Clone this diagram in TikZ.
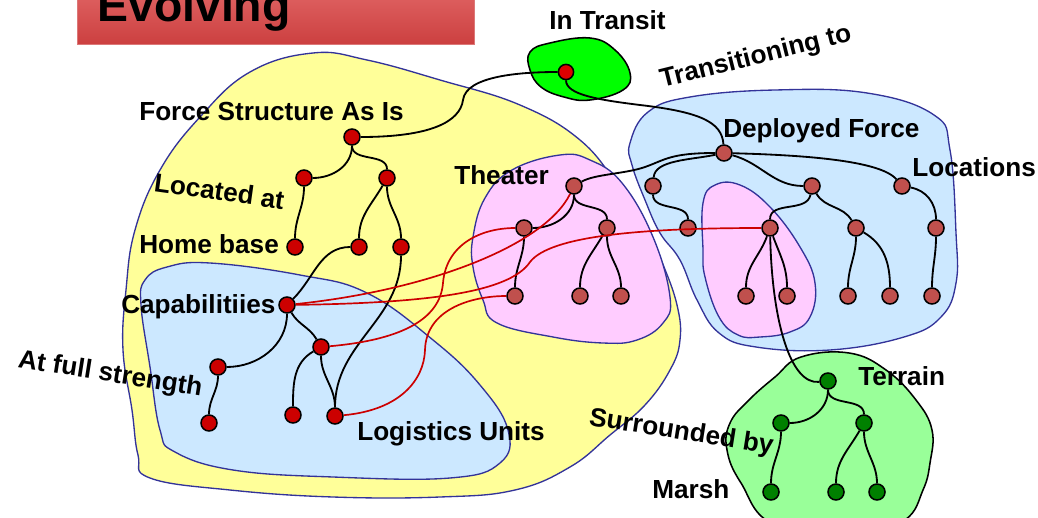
\documentclass[tikz,border=0pt]{standalone}
\usepackage{fontspec}
\setmainfont{Liberation Sans}
\definecolor{yellowfill}{HTML}{FFFF99}
\definecolor{bluefill}{HTML}{CCE8FF}
\definecolor{pinkfill}{HTML}{FFCCFF}
\definecolor{regionline}{HTML}{333399}
\definecolor{transitgreen}{HTML}{00FF00}
\definecolor{terraingreen}{HTML}{99FF99}
\definecolor{nodered}{HTML}{CC0000}
\definecolor{nodebrown}{HTML}{C0504D}
\definecolor{nodegreen}{HTML}{008000}
\definecolor{linkred}{HTML}{CC0000}
\definecolor{titletop}{HTML}{E06464}
\definecolor{titlebottom}{HTML}{CC4040}
\begin{document}
\begin{tikzpicture}[x=0.025cm,y=0.025cm,
  lbl/.style={font=\bfseries\fontsize{18.6}{20}\selectfont, inner sep=0, anchor=base west},
  dot/.style={circle, draw=black, line width=1.1pt, minimum size=0.4cm, inner sep=0},
  rdot/.style={dot, fill=nodered},
  bdot/.style={dot, fill=nodebrown},
  gdot/.style={dot, fill=nodegreen},
  link/.style={draw=black, line width=1.3pt},
  rlink/.style={draw=linkred, line width=1.2pt},
  region/.style={draw=regionline, line width=0.95pt},
  blob/.style={draw=black, line width=1.1pt}]
\useasboundingbox (0,0) rectangle (1038,-518);
\clip (0,0) rectangle (1038,-518);

% title banner
\shade[top color=titletop, bottom color=titlebottom, draw={rgb,255:red,220;green,120;blue,120}, line width=0.4pt]
  (77,12) rectangle (474,-44);
\node[font=\bfseries\fontsize{33}{36}\selectfont, inner sep=0, anchor=base west] (title) at (97,-22) {Evolving};

% regions
\filldraw[region, fill=yellowfill] plot[smooth cycle, tension=0.7] coordinates {
  (313,-53) (367,-60) (440,-80) (520,-105) (580,-140) (619,-187) (645,-225) (662,-262)
  (677,-305) (680,-340) (670,-370) (645,-405) (610,-435) (570,-467) (515,-490) (440,-497)
  (333,-497) (230,-490) (150,-478) (138,-455) (132,-410) (123,-350) (126,-290) (135,-230)
  (160,-170) (200,-117) (250,-72)};
\filldraw[region, fill=bluefill] plot[smooth cycle, tension=0.7] coordinates {
  (167,-267) (210,-263) (300,-275) (367,-293) (433,-340) (480,-385) (508,-430) (500,-463)
  (450,-478) (333,-477) (233,-470) (175,-452) (160,-430) (150,-367) (141,-305) (145,-280)};
\filldraw[region, fill=pinkfill] plot[smooth cycle, tension=0.7] coordinates {
  (473,-237) (485,-198) (512,-170) (560,-155) (590,-160) (622,-183) (653,-237) (670,-297)
  (663,-323) (637,-340) (603,-343) (553,-337) (497,-323) (483,-300) (473,-267)};
\filldraw[region, fill=bluefill] plot[smooth cycle, tension=0.7] coordinates {
  (630,-143) (648,-112) (690,-97) (775,-90) (867,-93) (934,-115) (950,-150) (956,-233)
  (956,-283) (941,-317) (904,-337) (830,-350) (756,-347) (719,-333) (697,-300) (680,-260)
  (660,-233) (645,-200) (632,-165)};
\filldraw[region, fill=pinkfill] plot[smooth cycle, tension=0.7] coordinates {
  (703,-203) (715,-185) (740,-185) (770,-207) (800,-247) (815,-283) (810,-317) (790,-332)
  (760,-337) (738,-335) (719,-317) (705,-277) (703,-250)};
\filldraw[blob, fill=transitgreen] plot[smooth cycle, tension=0.7] coordinates {
  (530,-52) (550,-43) (590,-38) (615,-50) (630,-73) (623,-90) (590,-100) (564,-97)
  (541,-87) (530,-70)};
\filldraw[blob, fill=terraingreen] plot[smooth cycle, tension=0.7] coordinates {
  (775,-377) (801,-357) (849,-353) (886,-370) (916,-400) (932,-430) (930,-463) (923,-490)
  (905,-520) (860,-535) (775,-525) (741,-483) (727,-450) (730,-423) (749,-400)};

% force structure as is
\node[rdot] (fs) at (352,-137) {};
\node[rdot] (a) at (304,-178) {};
\node[rdot] (b) at (387,-178) {};
\node[rdot] (hb) at (295,-247) {};
\node[rdot] (c) at (359,-247) {};
\node[rdot] (d) at (401,-247) {};
\node[rdot] (cap) at (287,-305) {};
\node[rdot] (e) at (218,-367) {};
\node[rdot] (f) at (321,-347) {};
\node[rdot] (g) at (209,-423) {};
\node[rdot] (h) at (293,-415) {};
\node[rdot] (lu) at (335,-416) {};

% theater
\node[bdot] (tr) at (574,-186) {};
\node[bdot] (tc1) at (524,-228) {};
\node[bdot] (tc2) at (607,-228) {};
\node[bdot] (tl1) at (515,-296) {};
\node[bdot] (tl2) at (580,-296) {};
\node[bdot] (tl3) at (621,-296) {};

% deployed force
\node[bdot] (dr) at (724,-153) {};
\node[bdot] (d1) at (653,-186) {};
\node[bdot] (d2) at (812,-186) {};
\node[bdot] (d3) at (902,-186) {};
\node[bdot] (d4) at (688,-228) {};
\node[bdot] (d5) at (770,-228) {};
\node[bdot] (d6) at (856,-228) {};
\node[bdot] (d7) at (936,-228) {};
\node[bdot] (l1) at (746,-296) {};
\node[bdot] (l2) at (787,-296) {};
\node[bdot] (l3) at (848,-296) {};
\node[bdot] (l4) at (890,-296) {};
\node[bdot] (l5) at (932,-296) {};

% in transit
\node[dot, fill={rgb,255:red,221;green,0;blue,0}, minimum size=0.38cm] (it) at (566,-72) {};

% terrain
\node[gdot] (t) at (828,-381) {};
\node[gdot] (g1) at (781,-423) {};
\node[gdot] (g2) at (864,-423) {};
\node[gdot] (gl1) at (771,-492) {};
\node[gdot] (gl2) at (836,-492) {};
\node[gdot] (gl3) at (877,-492) {};

% black links
\draw[link] (fs) to[out=-90,in=0] (a);
\draw[link] (fs) to[out=-90,in=90] (b);
\draw[link] (a) to[out=-90,in=90] (hb);
\draw[link] (b) to[out=-120,in=90] (c);
\draw[link] (b) to[out=-90,in=90] (d);
\draw[link] (c) to[out=180,in=45] (cap);
\draw[link] (d) to[out=-90,in=90] (lu);
\draw[link] (cap) to[out=-90,in=0] (e);
\draw[link] (cap) to[out=-60,in=120] (f);
\draw[link] (e) to[out=-90,in=90] (g);
\draw[link] (f) to[out=-150,in=90] (h);
\draw[link] (f) to[out=-90,in=90] (lu);

\draw[link] (tr) to[out=-90,in=0] (tc1);
\draw[link] (tr) to[out=-90,in=90] (tc2);
\draw[link] (tc1) to[out=-90,in=90] (tl1);
\draw[link] (tc2) to[out=-120,in=90] (tl2);
\draw[link] (tc2) to[out=-90,in=90] (tl3);

\draw[link] (dr) .. controls (670,-153) and (665,-160) .. (645,-167) .. controls (625,-174) and (595,-174) .. (tr);
\draw[link] (dr) .. controls (690,-160) and (655,-160) .. (d1);
\draw[link] (dr) to[out=-15,in=180] (d2);
\draw[link] (dr) .. controls (800,-155) and (880,-160) .. (d3);
\draw[link] (d1) to[out=-90,in=90] (d4);
\draw[link] (d2) to[out=-100,in=90] (d5);
\draw[link] (d2) to[out=-60,in=120] (d6);
\draw[link] (d3) to[out=-10,in=90] (d7);
\draw[link] (d5) to[out=-110,in=90] (l1);
\draw[link] (d5) to[out=-70,in=90] (l2);
\draw[link] (d6) to[out=-90,in=90] (l3);
\draw[link] (d6) to[out=-30,in=90] (l4);
\draw[link] (d7) to[out=-90,in=90] (l5);
\draw[link] (d5) .. controls (772,-320) and (790,-385) .. (t);

\draw[link] (fs) .. controls (430,-137) and (460,-122) .. (463,-100) .. controls (466,-76) and (520,-72) .. (it);
\draw[link] (it) .. controls (566,-95) and (600,-100) .. (640,-105) .. controls (700,-112) and (722,-122) .. (dr);

\draw[link] (t) to[out=-90,in=0] (g1);
\draw[link] (t) to[out=-90,in=90] (g2);
\draw[link] (g1) to[out=-90,in=90] (gl1);
\draw[link] (g2) to[out=-120,in=90] (gl2);
\draw[link] (g2) to[out=-90,in=90] (gl3);

% red cross links
\draw[rlink] (cap) .. controls (430,-290) and (545,-245) .. (tr);
\draw[rlink] (cap) .. controls (430,-303) and (510,-292) .. (530,-262) .. controls (550,-236) and (640,-228) .. (d5);
\draw[rlink] (f) .. controls (400,-340) and (440,-320) .. (443,-283) .. controls (446,-245) and (480,-228) .. (tc1);
\draw[rlink] (lu) .. controls (400,-410) and (424,-380) .. (425,-350) .. controls (426,-310) and (470,-296) .. (tl1);

% labels
\node[lbl] (lfs) at (139,-121) {Force Structure As Is};
\node[lbl, rotate=-8] (lloc) at (153,-191) {Located at};
\node[lbl] (lhb) at (139,-253) {Home base};
\node[lbl] (lcap) at (121,-313) {Capabilitiies};
\node[lbl, rotate=-9] (lfull) at (17,-367) {At full strength};
\node[lbl] (llu) at (357,-440) {Logistics Units};
\node[lbl] (lth) at (454,-185) {Theater};
\node[lbl] (lit) at (549,-30) {In Transit};
\node[lbl, rotate=14] (ltr) at (662,-88) {Transitioning to};
\node[lbl] (ldf) at (723,-138) {Deployed Force};
\node[lbl] (lloc2) at (912,-177) {Locations};
\node[lbl] (lter) at (858,-385) {Terrain};
\node[lbl, rotate=-9] (lsur) at (588,-425) {Surrounded by};
\node[lbl] (lmar) at (652,-498) {Marsh};
\end{tikzpicture}
\end{document}
